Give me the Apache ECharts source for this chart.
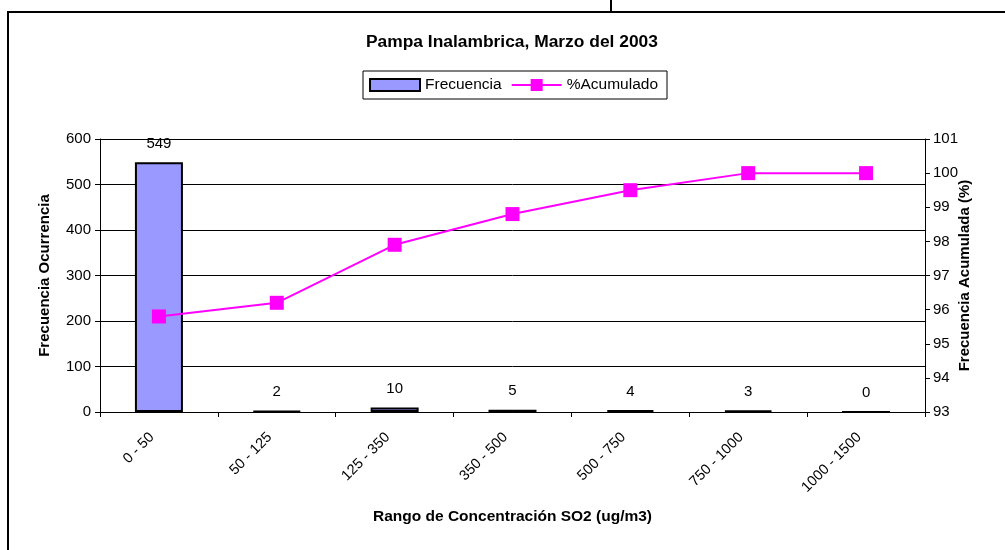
<!DOCTYPE html>
<html>
<head>
<meta charset="utf-8">
<script src="https://cdn.jsdelivr.net/npm/echarts@6/dist/echarts.min.js"></script>
<style>
html,body{margin:0;padding:0;background:#fff;}
#chart{width:1005px;height:550px;}
</style>
</head>
<body>
<div id="chart"></div>
<script>
var categorias = ['0 - 50','50 - 125','125 - 350','350 - 500','500 - 750','750 - 1000','1000 - 1500'];
var frecuencia = [549, 2, 10, 5, 4, 3, 0];
var acumulado = [95.8, 96.2, 97.9, 98.8, 99.5, 100, 100];

var fuente = 'Liberation Sans, Arial, sans-serif';
// icono de leyenda: linea con cuadrado al centro
var iconoLinea = 'path://M0,5 L19,5 L19,7 L0,7 Z M19,0 L31,0 L31,12 L19,12 Z M31,5 L50,5 L50,7 L31,7 Z';
var myChart = echarts.init(document.getElementById('chart'));
var option = {
	backgroundColor: '#fff',
	textStyle: { fontFamily: fuente, color: '#000' },
	title: {
		text: 'Pampa Inalambrica, Marzo del 2003',
		left: 361,
		top: 29,
		textStyle: { fontFamily: fuente, fontSize: 17.4, fontWeight: 'bold', color: '#000' }
	},
	legend: {
		left: 363,
		top: 71,
		padding: [6, 9, 6, 6],
		borderColor: '#000',
		borderWidth: 1,
		itemWidth: 50,
		itemHeight: 12,
		itemGap: 10,
		textStyle: { fontFamily: fuente, fontSize: 15.5, color: '#000' },
		data: [
			{ name: 'Frecuencia', icon: 'rect' },
			{ name: '%Acumulado', icon: iconoLinea, itemStyle: { color: '#FF00FF', borderWidth: 0 } }
		]
	},
	grid: { left: 100, right: 80, top: 139, bottom: 138 },
	xAxis: {
		type: 'category',
		data: categorias,
		axisLine: { lineStyle: { color: '#000', width: 1 } },
		axisTick: { show: true, length: 5, lineStyle: { color: '#000' } },
		axisLabel: { rotate: 45, margin: 16, padding: [0, 10, 0, 0], fontSize: 14.5, color: '#000', fontFamily: fuente },
		name: 'Rango de Concentración SO2 (ug/m3)',
		nameLocation: 'middle',
		nameGap: 97,
		nameTextStyle: { fontFamily: fuente, fontSize: 15.5, fontWeight: 'bold', color: '#000' }
	},
	yAxis: [
		{
			type: 'value',
			min: 0, max: 600, interval: 100,
			axisLine: { show: true, lineStyle: { color: '#000' } },
			axisTick: { show: true, length: 5, lineStyle: { color: '#000' } },
			axisLabel: { fontSize: 15, color: '#000', margin: 9, fontFamily: fuente },
			splitLine: { lineStyle: { color: '#000', width: 1 } },
			name: 'Frecuencia Ocurrencia',
			nameLocation: 'middle',
			nameRotate: 90,
			nameGap: 48,
			nameMoveOverlap: false,
			nameTextStyle: { fontFamily: fuente, fontSize: 15, fontWeight: 'bold', color: '#000' }
		},
		{
			type: 'value',
			min: 93, max: 101, interval: 1,
			position: 'right',
			axisLine: { show: true, lineStyle: { color: '#000' } },
			axisTick: { show: true, length: 5, lineStyle: { color: '#000' } },
			axisLabel: { fontSize: 15, color: '#000', margin: 8, fontFamily: fuente },
			splitLine: { show: false },
			name: 'Frecuencia Acumulada (%)',
			nameLocation: 'middle',
			nameRotate: 90,
			nameGap: 32,
			nameMoveOverlap: false,
			nameTextStyle: { fontFamily: fuente, fontSize: 15, fontWeight: 'bold', color: '#000' }
		}
	],
	series: [
		{
			name: 'Frecuencia',
			type: 'bar',
			data: frecuencia,
			barWidth: 48,
			itemStyle: { color: '#9999FF', borderColor: '#000', borderWidth: 2 },
			label: { show: true, position: 'top', distance: 11, fontSize: 15, color: '#000', fontFamily: fuente }
		},
		{
			name: '%Acumulado',
			type: 'line',
			yAxisIndex: 1,
			data: acumulado,
			symbol: 'rect',
			symbolSize: 14,
			lineStyle: { color: '#FF00FF', width: 2 },
			itemStyle: { color: '#FF00FF' }
		}
	],
	graphic: [
		{ type: 'rect', shape: { x: 8, y: 12, width: 1010, height: 560 }, style: { fill: null, stroke: '#000', lineWidth: 2 }, z: 100 },
		{ type: 'line', shape: { x1: 611, y1: 0, x2: 611, y2: 12 }, style: { stroke: '#000', lineWidth: 2 }, z: 100 }
	]
};
myChart.setOption(option);
</script>
</body>
</html>
